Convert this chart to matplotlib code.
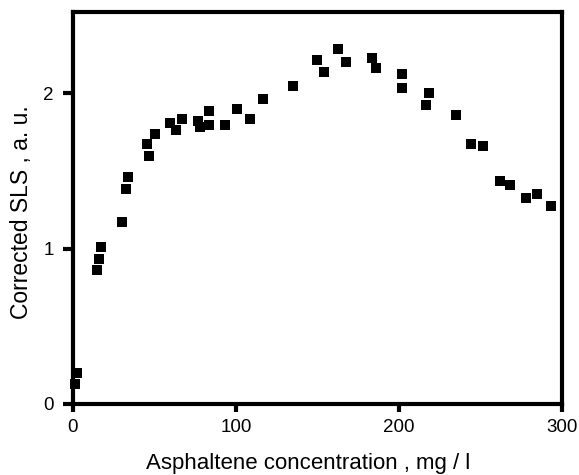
import matplotlib
matplotlib.use("Agg")
import matplotlib.pyplot as plt

concentration = [1.2, 2.8, 14.7, 15.9, 17.1, 30.2, 32.5, 33.7, 45.5, 46.7, 50.4,
                 59.8, 63.5, 67.0, 76.6, 78.0, 83.7, 83.7, 93.1, 100.5, 108.6,
                 116.8, 134.8, 150.0, 153.8, 162.4, 167.3, 183.6, 186.0, 201.6,
                 201.6, 216.7, 218.1, 234.7, 244.3, 251.2, 262.0, 268.0, 277.8,
                 284.7, 293.1]
sls = [0.13, 0.20, 0.862, 0.935, 1.008, 1.174, 1.384, 1.461, 1.674, 1.598, 1.736,
       1.811, 1.762, 1.835, 1.822, 1.785, 1.798, 1.886, 1.798, 1.897, 1.835,
       1.961, 2.049, 2.212, 2.137, 2.287, 2.200, 2.225, 2.163, 2.124,
       2.036, 1.925, 2.000, 1.862, 1.674, 1.663, 1.435, 1.412, 1.324,
       1.350, 1.273]

xticks = [0, 100, 200, 300]
yticks = [0, 1, 2]

plt.rcParams['font.family'] = ['Liberation Sans', 'DejaVu Sans']

fig = plt.figure(figsize=(5.79, 4.75), dpi=100)
ax = fig.add_axes([0.1256, 0.1495, 0.971 - 0.1256, 0.974 - 0.1495])
ax.plot(concentration, sls, linestyle='none', marker='s', markersize=7.5,
        color='black', markeredgewidth=0, clip_on=False)
ax.set_xlim(0, 300)
ax.set_ylim(0, 2.52)
ax.set_xticks(xticks)
ax.set_yticks(yticks)
for s in ax.spines.values():
    s.set_linewidth(3)
ax.tick_params(direction='out', width=3, labelsize=13.5)
ax.tick_params(axis='x', length=6, pad=5)
ax.tick_params(axis='y', length=7.5, pad=6)
ax.set_xlabel('Asphaltene concentration , mg / l', fontsize=16)
ax.set_ylabel('Corrected SLS , a. u.', fontsize=16.5)
ax.xaxis.set_label_coords(0.481, -0.124)
ax.yaxis.set_label_coords(-0.081, 0.489)
fig.savefig('out.png', dpi=100)
